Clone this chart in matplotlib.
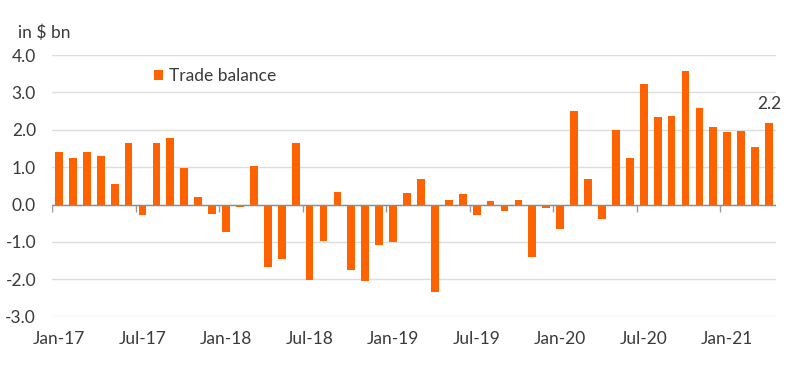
import matplotlib
matplotlib.use("Agg")
import matplotlib.pyplot as plt
import numpy as np

plt.rcParams['font.family'] = ['Lato', 'DejaVu Sans']

months = ["Jan-17", "Feb-17", "Mar-17", "Apr-17", "May-17", "Jun-17", "Jul-17", "Aug-17", "Sep-17", "Oct-17", "Nov-17", "Dec-17",
          "Jan-18", "Feb-18", "Mar-18", "Apr-18", "May-18", "Jun-18", "Jul-18", "Aug-18", "Sep-18", "Oct-18", "Nov-18", "Dec-18",
          "Jan-19", "Feb-19", "Mar-19", "Apr-19", "May-19", "Jun-19", "Jul-19", "Aug-19", "Sep-19", "Oct-19", "Nov-19", "Dec-19",
          "Jan-20", "Feb-20", "Mar-20", "Apr-20", "May-20", "Jun-20", "Jul-20", "Aug-20", "Sep-20", "Oct-20", "Nov-20", "Dec-20",
          "Jan-21", "Feb-21", "Mar-21", "Apr-21"]
trade_balance = [1.40, 1.24, 1.40, 1.30, 0.56, 1.65, -0.28, 1.65, 1.77, 0.99, 0.20, -0.25,
                 -0.74, -0.06, 1.03, -1.66, -1.46, 1.65, -2.01, -0.97, 0.34, -1.74, -2.04, -1.08,
                 -0.99, 0.31, 0.69, -2.33, 0.12, 0.27, -0.28, 0.09, -0.18, 0.11, -1.39, -0.09,
                 -0.65, 2.49, 0.69, -0.38, 1.99, 1.24, 3.23, 2.33, 2.37, 3.56, 2.58, 2.08,
                 1.95, 1.97, 1.54, 2.17]
yticks = [4.0, 3.0, 2.0, 1.0, 0.0, -1.0, -2.0, -3.0]
last_label = "2.2"

orange = "#FF6200"
text_col = "#3a3a3a"
fs = 12.5

fig = plt.figure(figsize=(8, 3.68), dpi=100)
ax = fig.add_axes([0.065, 0.1394, 0.905, 0.7111])

x = np.arange(len(months))
ax.bar(x, trade_balance, width=0.56, color=orange, zorder=3, label="Trade balance")

ax.set_xlim(-0.5, len(months) - 0.5)
ax.set_ylim(-3, 4)
ax.set_yticks(yticks)
ax.set_yticklabels([f"{v:.1f}" for v in yticks])
ax.yaxis.grid(True, color="#dcdcdc", lw=1.0, zorder=0)
for s in ax.spines.values():
    s.set_visible(False)
ax.tick_params(axis='y', length=0, pad=11.5, labelsize=fs, labelcolor=text_col)

# x labels every 6 months
ax.set_xticks(x[::6])
ax.set_xticklabels([months[i] for i in range(0, len(months), 6)])
ax.tick_params(axis='x', length=0, pad=10.5, labelsize=fs, labelcolor=text_col)

# zero line and boundary tick marks
ax.axhline(0, color="#8c8c8c", lw=1.0, zorder=4)
bounds = x[::6] - 0.5
ax.vlines(bounds, -0.19, 0, color="#9a9a9a", lw=1.0, zorder=4)

# last value label
ax.text(x[-1], trade_balance[-1] + 0.3, last_label, ha='center', va='bottom',
        fontsize=fs, color=text_col)

fig.text(18 / 800, 1 - 38 / 368, "in $ bn", fontsize=fs, color=text_col, va='baseline')

leg = ax.legend(loc='center left', bbox_to_anchor=(145 / 800, 1 - 76 / 368),
                bbox_transform=fig.transFigure, frameon=False, fontsize=fs,
                handlelength=0.55, handleheight=0.55, handletextpad=0.35, borderpad=0,
                labelcolor=text_col)

fig.savefig("out.png", dpi=100)
